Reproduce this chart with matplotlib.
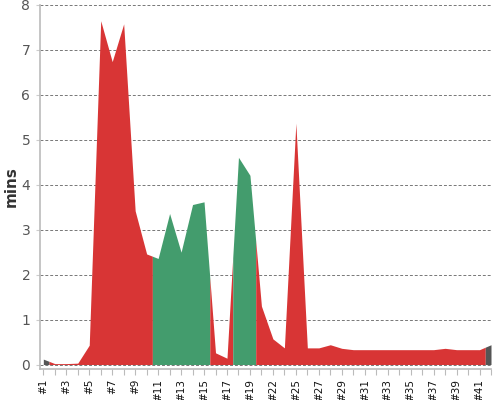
import matplotlib
matplotlib.use("Agg")
import matplotlib.pyplot as plt

categories = ["#1", "#2", "#3", "#4", "#5", "#6", "#7", "#8", "#9", "#10",
              "#11", "#12", "#13", "#14", "#15", "#16", "#17", "#18", "#19", "#20",
              "#22", "#23", "#25", "#26", "#27", "#28", "#29", "#30", "#31", "#32",
              "#33", "#34", "#35", "#36", "#37", "#38", "#39", "#40", "#41", "#42"]
values = [0.12, 0.02, 0.02, 0.03, 0.43, 7.65, 6.74, 7.58, 3.42, 2.46,
          2.36, 3.36, 2.50, 3.56, 3.62, 0.26, 0.14, 4.61, 4.21, 1.30,
          0.57, 0.37, 5.37, 0.37, 0.37, 0.44, 0.36, 0.33, 0.33, 0.33,
          0.33, 0.33, 0.33, 0.33, 0.33, 0.36, 0.33, 0.33, 0.33, 0.44]
status = ["gray"] + ["red"] * 9 + ["green"] * 5 + ["red"] * 2 + ["green"] * 2 + ["red"] * 20 + ["gray"]

palette = {"red": "#d83535", "green": "#439c6d", "gray": "#555555"}

fig = plt.figure(figsize=(5, 4), dpi=100)
ax = fig.add_axes([0.08, 0.0775, 0.902, 0.91])

n = len(values)
# group consecutive points with the same status into one polygon
start = 0
while start < n:
    end = start
    while end + 1 < n and status[end + 1] == status[start]:
        end += 1
    xs, ys = [], []
    if start > 0:
        xs.append(start - 0.5)
        ys.append((values[start - 1] + values[start]) / 2)
    for i in range(start, end + 1):
        xs.append(i)
        ys.append(values[i])
    if end < n - 1:
        xs.append(end + 0.5)
        ys.append((values[end] + values[end + 1]) / 2)
    ax.fill_between(xs, ys, 0, color=palette[status[start]], lw=0, zorder=2)
    start = end + 1

ax.set_xlim(-0.29, n - 1)
ax.set_ylim(-0.1, 8)
ax.set_yticks(range(0, 9))
ax.tick_params(axis="y", length=3, color="#cccccc", labelsize=10, labelcolor="#555555", pad=4)
ax.set_xticks(range(n))
ax.set_xticklabels([c if i % 2 == 0 else "" for i, c in enumerate(categories)],
                   rotation=90, fontsize=7.5, color="#111111")
ax.tick_params(axis="x", length=4, color="#bbbbbb", pad=3)

ax.yaxis.grid(True, color="#777777", linestyle=(0, (3, 2)), linewidth=0.7, zorder=1)
ax.set_axisbelow(True)
for s in ["top", "right"]:
    ax.spines[s].set_visible(False)
ax.spines["left"].set_color("#bbbbbb")
ax.spines["bottom"].set_color("#bbbbbb")
ax.spines["left"].set_linewidth(1.2)
ax.spines["bottom"].set_linewidth(1.2)

ax.set_ylabel("mins", fontsize=11, fontweight="bold", color="#333333")
ax.yaxis.set_label_coords(-0.047, 0.5)

fig.savefig("out.png", dpi=100)
